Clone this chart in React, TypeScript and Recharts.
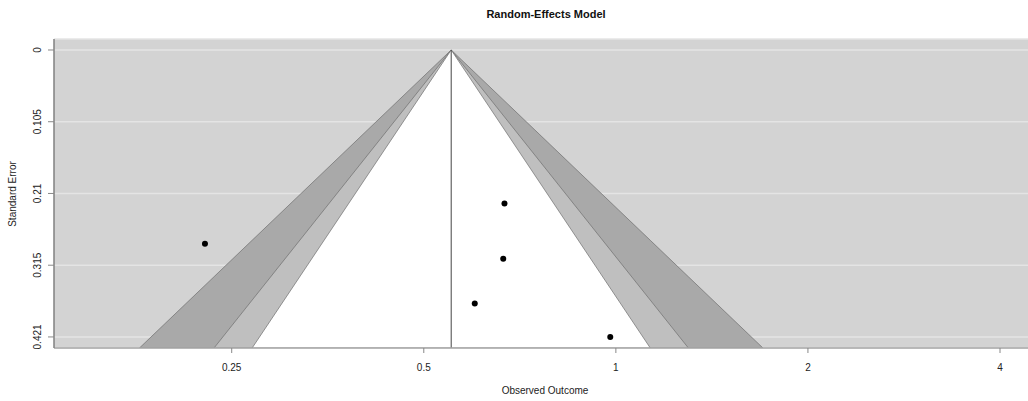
import React from 'react';
import {
  ComposedChart,
  Area,
  Scatter,
  XAxis,
  YAxis,
  CartesianGrid,
  ReferenceLine,
} from 'recharts';

// the plot runs to the right edge of the window; keep scrollbars away
if (typeof document !== 'undefined') {
  document.documentElement.style.overflow = 'hidden';
  document.body.style.overflow = 'hidden';
  document.body.style.margin = '0';
}

// study estimates (outcome scale) and their standard errors
const studyOutcome = [0.227, 0.669, 0.666, 0.601, 0.98];
const studySE = [0.284, 0.225, 0.306, 0.3715, 0.4205];

// random-effects pooled estimate
const pooledEstimate = 0.552;

// contour levels (99, 95, 90 %)
const contourZ = [2.576, 1.96, 1.645];
const contourFill = ['#a9a9a9', '#bfbfbf', '#ffffff'];

const xTickValues = [0.25, 0.5, 1, 2, 4];
const yTickLabels = ['0', '0.105', '0.21', '0.315', '0.421'];
const maxSE = 0.4205;

const X_DOMAIN: [number, number] = [-2.0276, 1.4873];
const Y_DOMAIN: [number, number] = [-0.0161, 0.4367];
const SE_BOTTOM = Y_DOMAIN[1];

const center = Math.log(pooledEstimate);

// funnel table: one row per triangle corner on the log scale
const funnelX = [
  ...contourZ.map((z) => center - z * SE_BOTTOM),
  center,
  ...contourZ.map((z) => center + z * SE_BOTTOM),
].sort((a, b) => a - b);

const funnelData = funnelX.map((x) => {
  const row: Record<string, any> = { x };
  contourZ.forEach((z, i) => {
    const d = Math.abs(x - center);
    row[`r${i}`] = d <= z * SE_BOTTOM + 1e-9 ? [d / z, SE_BOTTOM] : null;
  });
  return row;
});

const studies = studyOutcome.map((o, i) => ({ x: Math.log(o), y: studySE[i] }));

const font = '"Liberation Sans", Arial, sans-serif';

const YTick = (props: any) => {
  const { y, index } = props;
  const x = 30;
  return (
    <text
      x={x}
      y={y}
      transform={`rotate(-90, ${x}, ${y})`}
      textAnchor="middle"
      dominantBaseline="central"
      fontSize={10}
      fontFamily={font}
      fill="#222"
    >
      {yTickLabels[index]}
    </text>
  );
};

const XTick = (props: any) => {
  const { x, index } = props;
  return (
    <text
      x={x}
      y={359}
      textAnchor="middle"
      dominantBaseline="central"
      fontSize={10}
      fontFamily={font}
      fill="#222"
    >
      {String(xTickValues[index])}
    </text>
  );
};

export default function App() {
  return (
    <div style={{ width: 1028, height: 401, padding: '8px 0 0 8px', boxSizing: 'border-box' }}>
      <div style={{ position: 'relative', width: 1020, height: 393, fontFamily: font }}>
        <div
          style={{
            position: 'absolute',
            top: 0,
            left: 538 - 200,
            width: 400,
            textAlign: 'center',
            fontSize: 11,
            fontWeight: 'bold',
            lineHeight: '12px',
            color: '#111',
          }}
        >
          Random-Effects Model
        </div>
        <div
          style={{
            position: 'absolute',
            top: 377,
            left: 537 - 100,
            width: 200,
            textAlign: 'center',
            fontSize: 10,
            lineHeight: '12px',
            color: '#222',
          }}
        >
          Observed Outcome
        </div>
        <div
          style={{
            position: 'absolute',
            top: 186 - 6,
            left: 5 - 50,
            width: 100,
            textAlign: 'center',
            fontSize: 10,
            lineHeight: '12px',
            color: '#222',
            transform: 'rotate(-90deg)',
          }}
        >
          Standard Error
        </div>
        <ComposedChart
          width={1020}
          height={393}
          data={funnelData}
          margin={{ top: 31, right: 0, bottom: 0, left: 0 }}
        >
          <CartesianGrid
            horizontal
            vertical={false}
            fill="#d3d3d3"
            fillOpacity={1}
            stroke="#e4e4e4"
            strokeWidth={1.5}
          />
          <XAxis
            type="number"
            dataKey="x"
            domain={X_DOMAIN}
            allowDataOverflow
            ticks={xTickValues.map((v) => Math.log(v))}
            interval={0}
            tick={<XTick />}
            tickSize={5}
            height={53}
            axisLine={{ stroke: '#a8a8a8', strokeWidth: 1.5 }}
            tickLine={{ stroke: '#888' }}
          />
          <YAxis
            type="number"
            dataKey="y"
            reversed
            domain={Y_DOMAIN}
            allowDataOverflow
            ticks={yTickLabels.map((_, i) => (maxSE * i) / 4)}
            interval={0}
            tick={<YTick />}
            tickSize={6}
            width={46}
            axisLine={{ stroke: '#808080', strokeWidth: 1.5 }}
            tickLine={{ stroke: '#888' }}
          />
          {contourZ.map((z, i) => (
            <Area
              key={`c${i}`}
              type="linear"
              dataKey={`r${i}`}
              fill={contourFill[i]}
              fillOpacity={1}
              stroke="#6e6e6e"
              strokeWidth={0.7}
              isAnimationActive={false}
              dot={false}
              activeDot={false}
            />
          ))}
          <ReferenceLine
            segment={[
              { x: center, y: 0 },
              { x: center, y: SE_BOTTOM },
            ]}
            stroke="#444"
            strokeWidth={1}
          />
          <Scatter
            data={studies}
            fill="#000"
            isAnimationActive={false}
            shape={(p: any) => <circle cx={p.cx} cy={p.cy} r={3} fill="#000" />}
          />
        </ComposedChart>
      </div>
    </div>
  );
}
